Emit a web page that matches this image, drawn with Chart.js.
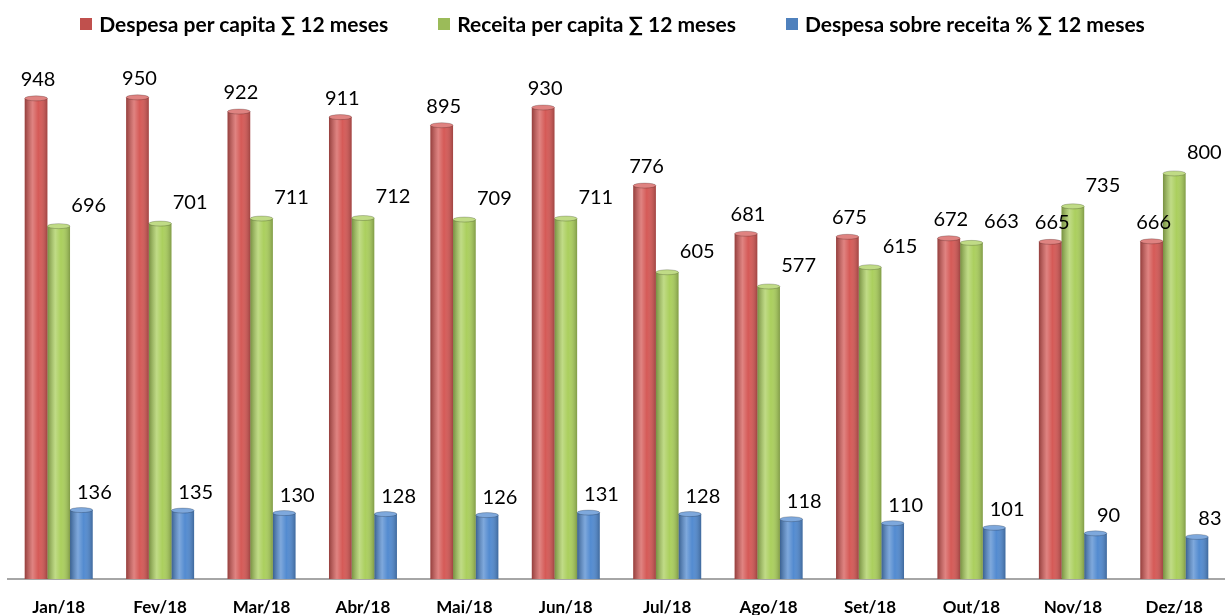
<!DOCTYPE html>
<html>
<head>
<meta charset="utf-8">
<script src="https://cdn.jsdelivr.net/npm/chart.js@4.4.1/dist/chart.umd.min.js"></script>
<style>
  html,body{margin:0;padding:0;background:#fff;}
  #wrap{position:relative;width:1225px;height:615px;}
  #legenda{position:absolute;left:0;top:11px;width:1225px;display:flex;justify-content:center;gap:50px;
    font:bold 21px Lato, sans-serif;color:#000;}
  #legenda span.item{display:flex;align-items:center;}
  #legenda span.sq{display:inline-block;width:12px;height:12px;margin-right:7px;}
</style>
</head>
<body>
<div id="wrap">
  <canvas id="grafico" width="1225" height="615"></canvas>
  <div id="legenda"></div>
</div>
<script>
// dados
const meses = ['Jan/18','Fev/18','Mar/18','Abr/18','Mai/18','Jun/18','Jul/18','Ago/18','Set/18','Out/18','Nov/18','Dez/18'];
const despesaPerCapita = [948,950,922,911,895,930,776,681,675,672,665,666];
const receitaPerCapita = [696,701,711,712,709,711,605,577,615,663,735,800];
const despesaSobreReceita = [136,135,130,128,126,131,128,118,110,101,90,83];

const series = [
  {label:'Despesa per capita ∑ 12 meses', data:despesaPerCapita, cor:'#D55A57', leg:'#C0504D', dx:2, dy:19},
  {label:'Receita per capita ∑ 12 meses', data:receitaPerCapita, cor:'#ABCF5E', leg:'#9BBB59', dx:30, dy:21},
  {label:'Despesa sobre receita % ∑ 12 meses', data:despesaSobreReceita, cor:'#538BD0', leg:'#4F81BD', dx:13, dy:18}
];

// legenda em html
const leg = document.getElementById('legenda');
series.forEach(s=>{
  leg.innerHTML += `<span class="item"><span class="sq" style="background:${s.leg}"></span>${s.label}</span>`;
});

// sombreado cilindrico + rotulos
const cilindro = {
  id:'cilindro',
  afterDatasetsDraw(chart){
    const ctx = chart.ctx;
    chart.data.datasets.forEach((ds, di)=>{
      const meta = chart.getDatasetMeta(di);
      meta.data.forEach((el, i)=>{
        const w = el.width, x0 = el.x - w/2, top = el.y, base = el.base;
        ctx.save();
        const g = ctx.createLinearGradient(x0, 0, x0 + w, 0);
        g.addColorStop(0, 'rgba(0,0,0,0.3)');
        g.addColorStop(0.35, 'rgba(255,255,255,0.25)');
        g.addColorStop(0.6, 'rgba(255,255,255,0.0)');
        g.addColorStop(1, 'rgba(0,0,0,0.25)');
        ctx.fillStyle = g;
        ctx.fillRect(x0, top, w, base - top);
        // tampa
        ctx.beginPath();
        ctx.ellipse(el.x, top, w/2, 2.5, 0, 0, Math.PI*2);
        ctx.fillStyle = ds.backgroundColor;
        ctx.fill();
        ctx.fillStyle = 'rgba(255,255,255,0.25)';
        ctx.fill();
        ctx.strokeStyle = 'rgba(0,0,0,0.25)';
        ctx.lineWidth = 0.8;
        ctx.stroke();
        ctx.restore();
      });
    });
    // rotulos
    ctx.save();
    ctx.font = '20px Lato, sans-serif';
    ctx.fillStyle = '#000';
    ctx.textAlign = 'center';
    ctx.textBaseline = 'middle';
    chart.data.datasets.forEach((ds, di)=>{
      const s = series[di];
      chart.getDatasetMeta(di).data.forEach((el, i)=>{
        ctx.fillText(String(ds.data[i]), el.x + s.dx, el.y - s.dy);
      });
    });
    ctx.restore();
  }
};

new Chart(document.getElementById('grafico'), {
  type:'bar',
  data:{
    labels: meses,
    datasets: series.map(s=>({
      label:s.label, data:s.data, backgroundColor:s.cor,
      borderWidth:0, categoryPercentage:0.67, barPercentage:1.0
    }))
  },
  options:{
    responsive:false, animation:false,
    layout:{ padding:{ top:72, left:8, right:0, bottom:0 } },
    plugins:{ legend:{display:false}, tooltip:{enabled:false} },
    scales:{
      x:{
        grid:{display:false, drawTicks:false},
        border:{display:true, color:'#A6A6A6', width:2},
        ticks:{ color:'#000', padding:18, font:{family:'Lato', size:17, weight:'bold'} },
        afterFit(scale){ scale.height = 36; }
      },
      y:{ display:false, min:0, max:1000 }
    }
  },
  plugins:[cilindro]
});
</script>
</body>
</html>
